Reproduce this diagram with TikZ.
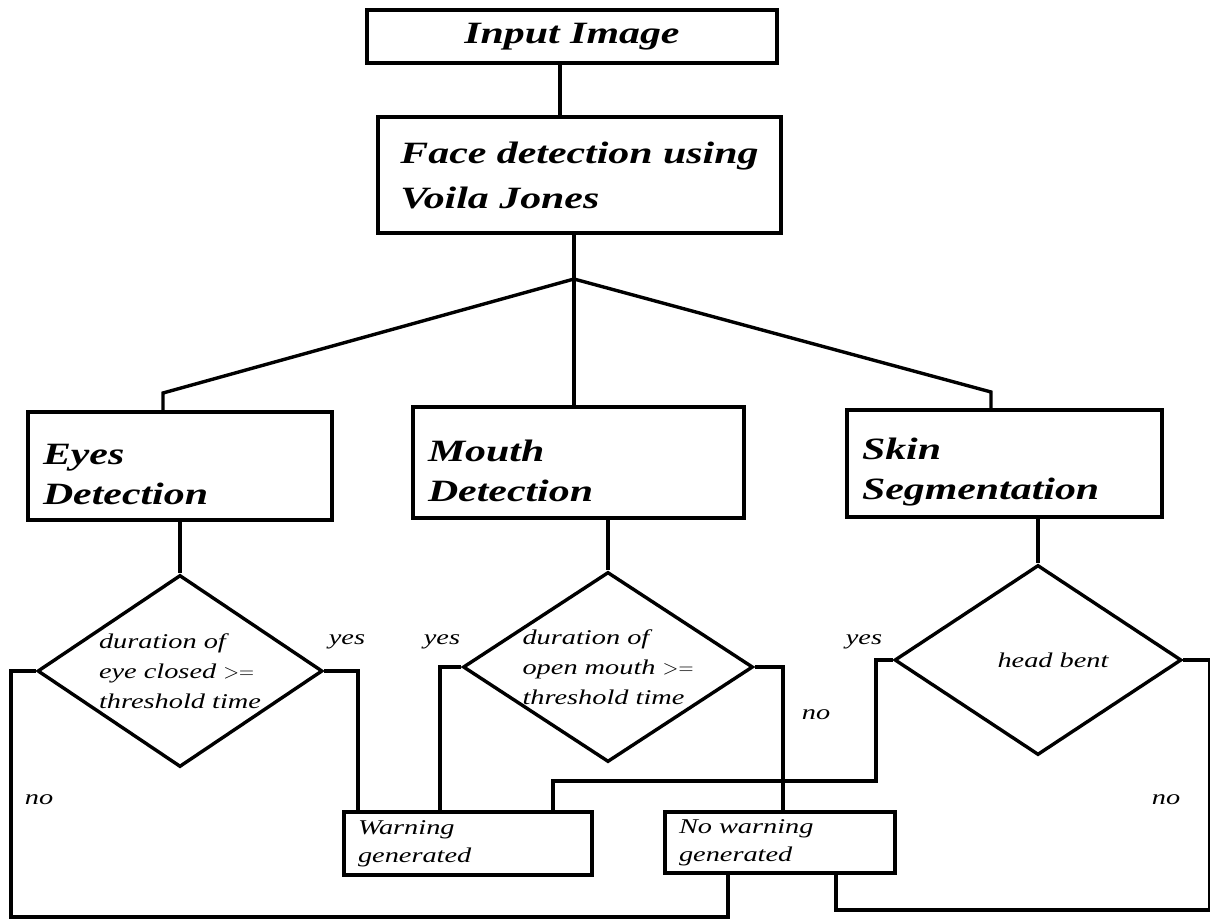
\documentclass[tikz,border=0pt]{standalone}
\usepackage{fontspec}
\setmainfont{Liberation Serif}[FakeStretch=1.35]
\usetikzlibrary{shapes.geometric}

\tikzset{
  box/.style={draw, rectangle, line width=3.6pt, inner xsep=15pt, inner ysep=0pt, align=left,
    font=\fontsize{31}{40}\selectfont\bfseries\itshape},
  part/.style={box, execute at begin node=\rule{0pt}{38pt}},
  outbox/.style={draw, rectangle, line width=3.6pt, inner xsep=14pt, inner ysep=0pt, align=left,
    font=\fontsize{21}{28}\selectfont\itshape},
  test/.style={draw, diamond, line width=3.4pt, inner sep=0pt, aspect=1.5, align=left,
    font=\fontsize{21}{30}\selectfont\itshape},
  lbl/.style={inner sep=0pt, font=\fontsize{21}{24}\selectfont\itshape},
  wire/.style={line width=3.4pt}
}

\begin{document}
\begin{tikzpicture}[x=1pt,y=-1pt]
\useasboundingbox[fill=white] (0,0) rectangle (1210,920);

% boxes
\node[box, minimum width=410pt, minimum height=53pt, align=center] (input) at (572,36.5) {Input Image};
\node[box, minimum width=403pt, minimum height=116pt, font=\fontsize{31}{45}\selectfont\bfseries\itshape] (face) at (579.5,175) {Face detection using\\Voila Jones};
\node[part, text width=274pt, minimum height=108pt] (eyes) at (180,466) {Eyes\\Detection};
\node[part, text width=301pt, minimum height=111pt] (mouth) at (578.5,462.5) {Mouth\\Detection};
\node[part, text width=285pt, minimum height=107pt] (skin) at (1004.5,463.5) {Skin\\Segmentation};

% decisions
\node[test, minimum width=285pt, minimum height=192pt] (eyetest) at (180,671) {duration of\\eye closed $>=$\\threshold time};
\node[test, minimum width=290pt, minimum height=190pt] (mouthtest) at (608,667) {duration of\\open mouth $>=$\\threshold time};
\node[test, minimum width=287pt, minimum height=190pt] (headtest) at (1038,660) {\hspace*{30pt}head bent};

% results
\node[outbox, text width=220pt, minimum height=63pt] (warn) at (468,843.5) {Warning\\generated};
\node[outbox, text width=202pt, minimum height=61pt] (nowarn) at (780,842.5) {No warning\\generated};

% split below face detection
\coordinate (split) at (574,279);
\coordinate (bendL) at (163,393);
\coordinate (bendR) at (991,392);
\draw[wire] ([xshift=-12pt]input.south) -- ([xshift=-12pt]input.south |- face.north);
\draw[wire] (split |- face.south) -- (split |- mouth.north);
\draw[wire] (split) -- (bendL) -- (bendL |- eyes.north);
\draw[wire] (split) -- (bendR) -- (bendR |- skin.north);
\draw[wire] (eyes.south) -- (eyetest.north);
\draw[wire] (mouthtest.north |- mouth.south) -- (mouthtest.north);
\draw[wire] (headtest.north |- skin.south) -- (headtest.north);

% eyes
\draw[wire] (eyetest.east) -| ([xshift=-110pt]warn.north);
\draw[wire] (eyetest.west) -- ++(-25,0) -- ++(0,246) -| ([xshift=-52pt]nowarn.south);
% mouth
\draw[wire] (mouthtest.west) -| ([xshift=-28pt]warn.north);
\draw[wire] (mouthtest.east) -| ([xshift=3pt]nowarn.north);
% head
\draw[wire] (headtest.west) -- ++(-17,0) -- ++(0,121) -| ([xshift=85pt]warn.north);
\draw[wire] (headtest.east) -- ++(26,0) -- ++(0,250) -| ([xshift=56pt]nowarn.south);

% yes / no
\node[lbl] (eyeyes) at (347,642) {yes};
\node[lbl] (eyeno) at (39,800) {no};
\node[lbl] (mouthyes) at (442,642) {yes};
\node[lbl] (mouthno) at (816,715) {no};
\node[lbl] (headyes) at (864,642) {yes};
\node[lbl] (headno) at (1166,800) {no};
\end{tikzpicture}
\end{document}
